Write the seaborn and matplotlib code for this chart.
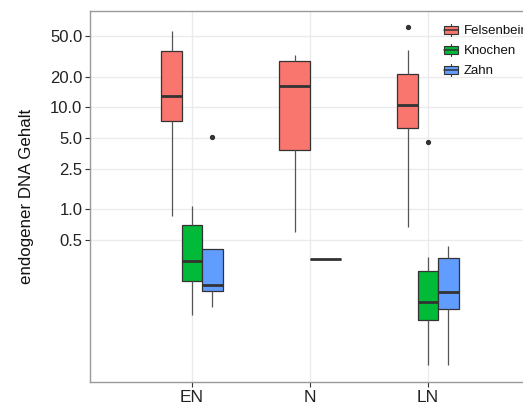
import numpy as np
import pandas as pd
import matplotlib
matplotlib.use("Agg")
import matplotlib.pyplot as plt
import seaborn as sns
from matplotlib.legend_handler import HandlerBase
from matplotlib.patches import Rectangle, Patch
from matplotlib.lines import Line2D
from matplotlib.ticker import FixedLocator, FixedFormatter, NullLocator

# Epochs and sample types
epochs = ["EN", "N", "LN"]
materials = ["Felsenbein", "Knochen", "Zahn"]
colors = {"Felsenbein": "#F8766D", "Knochen": "#00BA38", "Zahn": "#619CFF"}

# Endogenous DNA content (%) per sample
en_felsenbein = [0.86, 4.1, 7.29, 10.2, 12.8, 20.5, 35.4, 45.0, 56.4]
en_knochen = [0.0914, 0.15, 0.1995, 0.26, 0.313, 0.45, 0.697, 0.85, 1.08]
en_zahn = [0.1094, 0.13, 0.157, 0.168, 0.180, 0.30, 0.411, 0.411, 5.08]
n_felsenbein = [0.603, 1.8, 3.81, 9.0, 16.3, 22.0, 28.6, 30.5, 32.4]
n_knochen = [0.327, 0.327]
ln_felsenbein = [0.676, 3.2, 6.23, 8.4, 10.6, 15.5, 21.2, 36.7, 60.9]
ln_knochen = [0.0298, 0.055, 0.0822, 0.10, 0.1225, 0.18, 0.248, 0.343, 4.57]
ln_zahn = [0.0298, 0.07, 0.1047, 0.13, 0.1556, 0.24, 0.333, 0.38, 0.434]

y_ticks = [0.5, 1.0, 2.5, 5.0, 10.0, 20.0, 50.0]
y_ticklabels = ["0.5", "1.0", "2.5", "5.0", "10.0", "20.0", "50.0"]

groups = [
    ("EN", "Felsenbein", en_felsenbein),
    ("EN", "Knochen", en_knochen),
    ("EN", "Zahn", en_zahn),
    ("N", "Felsenbein", n_felsenbein),
    ("N", "Knochen", n_knochen),
    ("LN", "Felsenbein", ln_felsenbein),
    ("LN", "Knochen", ln_knochen),
    ("LN", "Zahn", ln_zahn),
]
df = pd.DataFrame(
    [(e, m, v) for e, m, vals in groups for v in vals],
    columns=["epoch", "material", "value"],
)

sns.set_theme(style="white")
plt.rcParams["font.family"] = ["Liberation Sans", "DejaVu Sans"]

fig = plt.figure(figsize=(5.23, 4.08), dpi=100)
ax = fig.add_axes([90 / 523, 26 / 408, 440 / 523, 371 / 408])

line_c = "#333333"
box_kws = dict(
    x="epoch", y="value", hue="material", order=epochs,
    width=0.52, gap=0, saturation=1, linecolor=line_c, linewidth=0.9,
    showcaps=False, legend=False, ax=ax,
    medianprops={"linewidth": 2.0, "color": line_c},
    flierprops={"marker": "o", "markersize": 2.8, "markerfacecolor": line_c,
                "markeredgecolor": line_c},
    whiskerprops={"color": "#555555"},
)

# Epochs with all three materials, then N with only two
sub3 = df[df["epoch"] != "N"]
sns.boxplot(data=sub3, hue_order=materials,
            palette=[colors[m] for m in materials], **box_kws)
sub2 = df[df["epoch"] == "N"]
sns.boxplot(data=sub2, hue_order=materials[:2],
            palette=[colors[m] for m in materials[:2]], **box_kws)

ax.set_yscale("log")
ax.set_ylim(0.0203, 87.9)
ax.set_xlim(-0.864, 2.864)
ax.yaxis.set_major_locator(FixedLocator(y_ticks))
ax.yaxis.set_major_formatter(FixedFormatter(y_ticklabels))
ax.yaxis.set_minor_locator(NullLocator())
ax.set_xticks(range(len(epochs)))
ax.set_xticklabels(epochs)

ax.grid(True, color="#ebebeb", linewidth=1.0)
ax.set_axisbelow(True)
for s in ax.spines.values():
    s.set_color("#9a9a9a")
    s.set_linewidth(1.0)

ax.tick_params(axis="y", which="major", left=True, length=3.5, width=0.8,
               color="#333333", labelsize=12, labelcolor="#222222", pad=2)
ax.tick_params(axis="x", which="major", bottom=True, length=3.5, width=0.8,
               color="#333333", labelsize=12.5, labelcolor="#222222", pad=2)
ax.set_xlabel("")
ax.set_ylabel("endogener DNA Gehalt", fontsize=12.2, color="#111111")
ax.yaxis.set_label_coords(-56 / 440, 0.5)


class BoxKey(HandlerBase):
    def create_artists(self, legend, orig, xd, yd, w, h, fontsize, trans):
        x0, y0 = -xd, -yd
        fc = orig.get_facecolor()
        rect = Rectangle((x0, y0 + 0.18 * h), w, 0.64 * h, facecolor=fc,
                         edgecolor=line_c, linewidth=0.8, transform=trans)
        med = Line2D([x0, x0 + w], [y0 + 0.5 * h] * 2, color=line_c,
                     linewidth=1.1, transform=trans)
        wt = Line2D([x0 + w / 2] * 2, [y0 + 0.82 * h, y0 + h], color=line_c,
                    linewidth=0.8, transform=trans)
        wb = Line2D([x0 + w / 2] * 2, [y0, y0 + 0.18 * h], color=line_c,
                    linewidth=0.8, transform=trans)
        return [rect, med, wt, wb]


handles = [Patch(facecolor=colors[m]) for m in materials]
fig.legend(handles, materials, handler_map={Patch: BoxKey()},
           loc="upper left", bbox_to_anchor=(444 / 523, 1 - 24 / 408),
           bbox_transform=fig.transFigure, frameon=False, borderpad=0,
           borderaxespad=0, fontsize=9.5, handlelength=1.05, handleheight=1.0,
           labelspacing=0.5, handletextpad=0.45, labelcolor="#111111")

fig.savefig("out.png", dpi=100)
